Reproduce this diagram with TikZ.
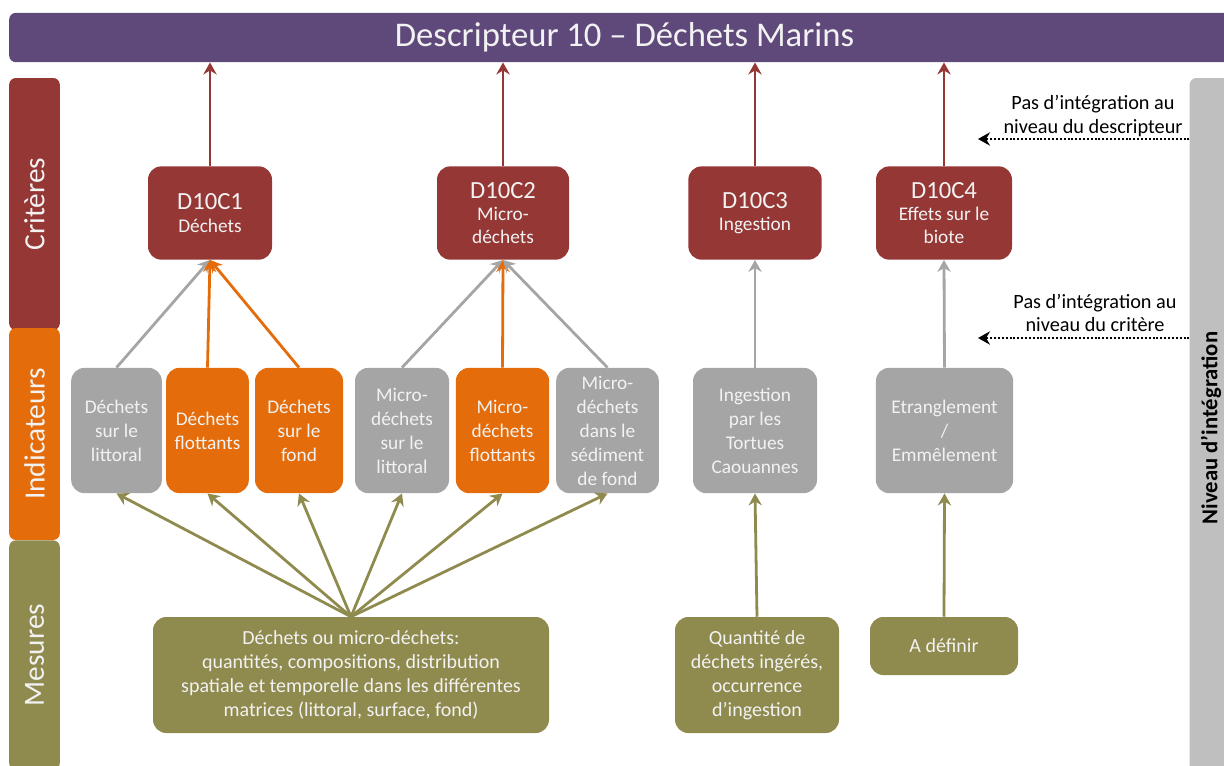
\documentclass[tikz,border=0pt]{standalone}
\usepackage{fontspec}
\setmainfont{Carlito}
\usepackage{tikz}
\usetikzlibrary{arrows.meta}
\definecolor{TopPurple}{HTML}{5F497A}
\definecolor{CritRed}{HTML}{953735}
\definecolor{IndOrange}{HTML}{E46C0A}
\definecolor{IndGray}{HTML}{A5A5A5}
\definecolor{MesOlive}{HTML}{8F8A4E}
\definecolor{LvlGray}{HTML}{BFBFBF}
\definecolor{BoxText}{HTML}{F2F2F2}

\begin{document}
\begin{tikzpicture}[
  x=0.75pt, y=-0.75pt,
  bar/.style={fill=TopPurple,rounded corners=5pt,text=BoxText,
              font=\fontsize{26}{30}\selectfont,inner sep=0pt},
  side/.style={rotate=90,rounded corners=5pt,text=BoxText,
               font=\fontsize{22}{26}\selectfont,inner sep=0pt,
               minimum height=38pt},
  crit/.style={fill=CritRed,rounded corners=10pt,text=BoxText,align=center,
               font=\fontsize{14.5}{17}\selectfont,inner sep=0pt,
               minimum height=70pt},
  ind/.style={rounded corners=10pt,text=BoxText,align=center,
              font=\fontsize{14.5}{18}\selectfont,inner sep=0pt,
              minimum height=94pt},
  mes/.style={fill=MesOlive,rounded corners=10pt,text=BoxText,align=center,
              font=\fontsize{15}{18}\selectfont,inner sep=0pt},
  note/.style={align=center,font=\fontsize{15.2}{17.5}\selectfont,inner sep=0pt},
  arrR/.style={-{Stealth[length=9pt,width=10pt,inset=3pt]},line width=1.9pt,draw=CritRed},
  arrG/.style={-{Stealth[length=9pt,width=10pt,inset=3pt]},line width=2.1pt,draw=IndGray},
  arrY/.style={-{Stealth[length=9pt,width=10pt,inset=3pt]},line width=2.1pt,draw=IndOrange},
  arrO/.style={-{Stealth[length=9pt,width=10pt,inset=3pt]},line width=2.1pt,draw=MesOlive},
  dotarr/.style={-{Stealth[length=9pt,width=10pt,inset=3pt]},line width=1.7pt,
                 dash pattern=on 1.5pt off 1.4pt}]
\useasboundingbox (0,0) rectangle (1224,765);

\node[bar,minimum width=923pt,minimum height=37pt] (titre) at (624.5,37.5)
  {Descripteur 10 -- Déchets Marins};

\node[side,fill=CritRed,minimum width=189pt] (scrit) at (34.5,204) {Critères};
\node[side,fill=IndOrange,minimum width=159pt] (sind) at (34.5,434) {Indicateurs};
\node[side,fill=MesOlive,minimum width=172pt] (smes) at (34.5,655) {Mesures};
\node[side,fill=LvlGray,minimum width=525pt] (niv) at (1215,428) {};
\node[rotate=90,font=\fontsize{17}{20}\selectfont\bfseries,inner sep=0pt]
  (nivtxt) at (1211,428) {Niveau d’intégration};

\node[crit,minimum width=93pt] (c1) at (210,213)
  {{\fontsize{18.5}{22}\selectfont D10C1}\\Déchets};
\node[crit,minimum width=99pt] (c2) at (503,213)
  {{\fontsize{18.5}{22}\selectfont D10C2}\\Micro-\\déchets};
\node[crit,minimum width=100pt] (c3) at (755,213)
  {{\fontsize{18.5}{22}\selectfont D10C3}\\Ingestion};
\node[crit,minimum width=102pt] (c4) at (944,213)
  {{\fontsize{18.5}{22}\selectfont D10C4}\\Effets sur le\\biote};

\node[ind,fill=IndGray,minimum width=68pt] (i1) at (116.5,430.5)
  {Déchets\\sur le\\littoral};
\node[ind,fill=IndOrange,minimum width=62pt] (i2) at (207.5,430.5)
  {Déchets\\flottants};
\node[ind,fill=IndOrange,minimum width=66pt] (i3) at (299,430.5)
  {Déchets\\sur le\\fond};
\node[ind,fill=IndGray,minimum width=70.5pt] (i4) at (402,430.5)
  {Micro-\\déchets\\sur le\\littoral};
\node[ind,fill=IndOrange,minimum width=70pt] (i5) at (502.5,430.5)
  {Micro-\\déchets\\flottants};
\node[ind,fill=IndGray,minimum width=77pt] (i6) at (607.5,430.5)
  {Micro-\\déchets\\dans le\\sédiment\\de fond};
\node[ind,fill=IndGray,minimum width=93pt] (i7) at (755,430.5)
  {Ingestion\\par les\\Tortues\\Caouannes};
\node[ind,fill=IndGray,minimum width=103pt] (i8) at (944.5,430.5)
  {Etranglement\\/\\Emmêlement};

\node[mes,minimum width=297pt,minimum height=87pt] (m1) at (351,675)
  {Déchets ou micro-déchets:\\quantités, compositions, distribution\\
   spatiale et temporelle dans les différentes\\matrices (littoral, surface, fond)};
\node[mes,minimum width=123pt,minimum height=87pt] (m2) at (757,675)
  {Quantité de\\déchets ingérés,\\occurrence\\d’ingestion};
\node[mes,minimum width=111pt,minimum height=43.5pt] (m3) at (944,646)
  {A définir};

\draw[arrR] (c1.north) -- (c1.north |- titre.south);
\draw[arrR] (c2.north) -- (c2.north |- titre.south);
\draw[arrR] (c3.north) -- (c3.north |- titre.south);
\draw[arrR] (c4.north) -- (c4.north |- titre.south);

\draw[arrG] (i1.north) -- (c1.south);
\draw[arrY] (i2.north) -- (c1.south);
\draw[arrY] (i3.north) -- (c1.south);
\draw[arrG] (i4.north) -- (c2.south);
\draw[arrY] (i5.north) -- (c2.south);
\draw[arrG] (i6.north) -- (c2.south);
\draw[arrG] (i7.north) -- (c3.south);
\draw[arrG] (i8.north) -- (c4.south);

\draw[arrO] (m1.north) -- (i1.south);
\draw[arrO] (m1.north) -- (i2.south);
\draw[arrO] (m1.north) -- (i3.south);
\draw[arrO] (m1.north) -- (i4.south);
\draw[arrO] (m1.north) -- (i5.south);
\draw[arrO] (m1.north) -- (i6.south);
\draw[arrO] (m2.north) -- (i7.south);
\draw[arrO] (m3.north) -- (i8.south);

\coordinate (ptD) at (978,139);
\coordinate (ptC) at (978,338);
\draw[dotarr] (ptD -| niv.north) -- (ptD);
\draw[dotarr] (ptC -| niv.north) -- (ptC);
\node[note] (nD) at (1093,116) {Pas d’intégration au\\niveau du descripteur};
\node[note] (nC) at (1095,313) {Pas d’intégration au\\niveau du critère};
\end{tikzpicture}
\end{document}
